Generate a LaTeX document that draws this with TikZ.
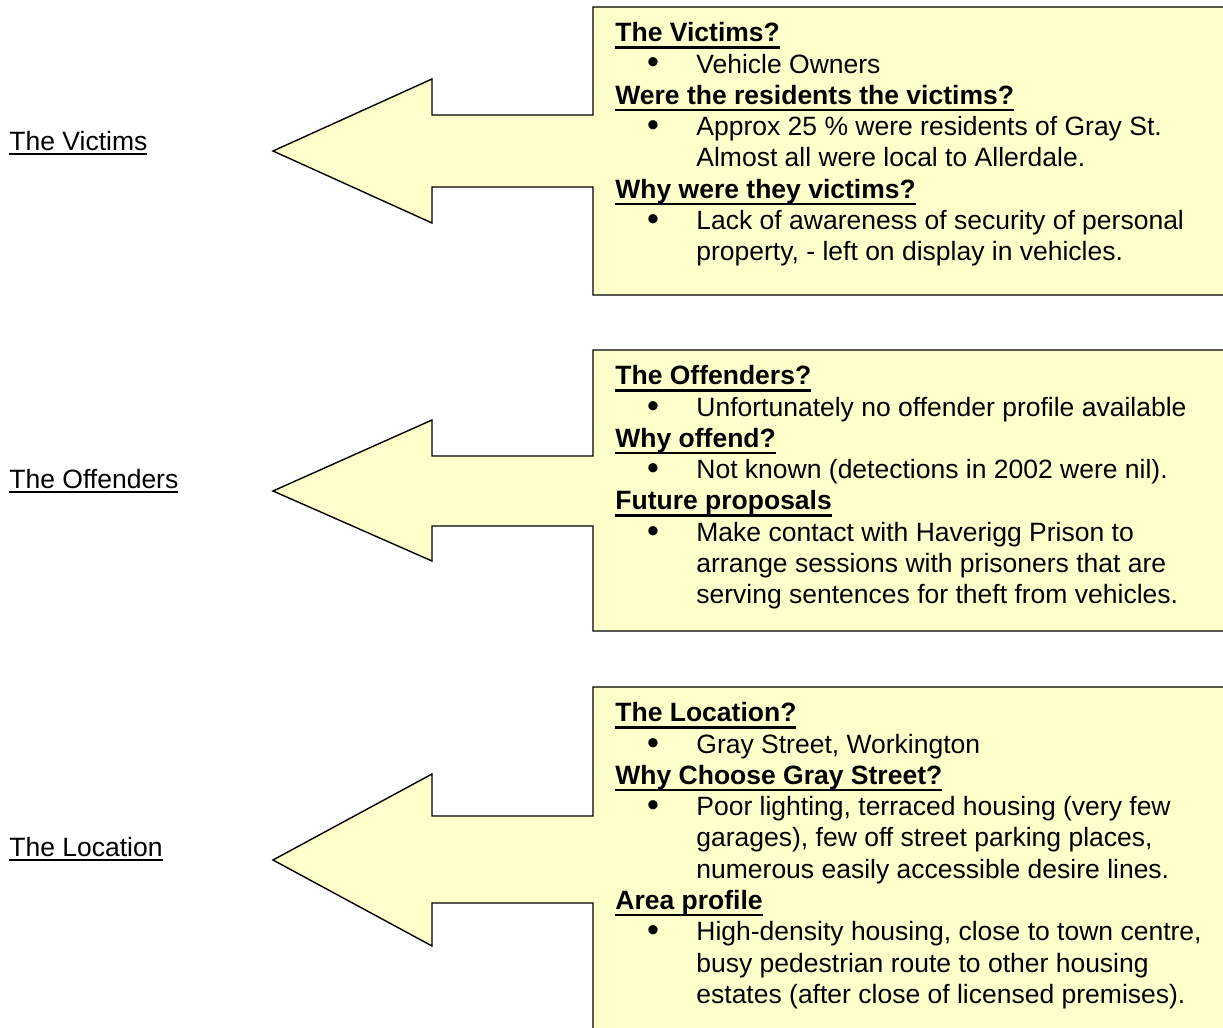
\documentclass[tikz,border=0pt]{standalone}
\usepackage{fontspec}
\setmainfont{Liberation Sans}
\usetikzlibrary{calc}

\definecolor{notefill}{HTML}{FFFFCC}
\newcommand{\headline}[1]{{\bfseries\setbox0\hbox{#1}\rlap{\rule[-3.4pt]{\wd0}{1.2pt}}\box0}}
\newcommand{\sideline}[1]{{\setbox0\hbox{#1}\rlap{\rule[-2.3pt]{\wd0}{0.9pt}}\box0}}

\begin{document}
\begin{tikzpicture}[x=0.5pt,y=-0.5pt,
  font=\fontsize{13.25pt}{15.65pt}\selectfont,
  callout/.style={draw=black,line width=0.7pt,fill=notefill,line join=miter},
  txt/.style={anchor=base west,inner sep=0pt},
  dot/.style={anchor=base,inner sep=0pt,font=\fontsize{17pt}{17pt}\selectfont}]
\useasboundingbox (0,0) rectangle (1223,1028);
\clip (0,0) rectangle (1223,1028);
\draw[callout] (593,7) -- (1232,7) -- (1232,295) -- (593,295) -- (593,187) -- (432,187) -- (432,223) -- (273,151) -- (432,79) -- (432,115) -- (593,115) -- cycle;
\draw[callout] (593,350) -- (1232,350) -- (1232,631) -- (593,631) -- (593,526) -- (432,526) -- (432,561) -- (273,491) -- (432,420) -- (432,456) -- (593,456) -- cycle;
\draw[callout] (593,687) -- (1232,687) -- (1232,1040) -- (593,1040) -- (593,903) -- (432,903) -- (432,946) -- (273,860) -- (432,774) -- (432,816) -- (593,816) -- cycle;
\draw (9,150) node[txt] (victims) {\sideline{The Victims}};
\draw (9,488) node[txt] (offenders) {\sideline{The Offenders}};
\draw (9,856) node[txt] (location) {\sideline{The Location}};
\draw (615,41.7) node[txt] (vic-h1) {\headline{The Victims?}};
\draw (653,74) node[dot] (vic-d1) {•};
\draw (696,73) node[txt] (vic-t1) {Vehicle Owners};
\draw (615,104.3) node[txt] (vic-h2) {\headline{Were the residents the victims?}};
\draw (653,136.6) node[dot] (vic-d2) {•};
\draw (696,135.6) node[txt] (vic-t2) {Approx 25 \% were residents of Gray St.};
\draw (696,166.9) node[txt] (vic-t3) {Almost all were local to Allerdale.};
\draw (615,198.2) node[txt] (vic-h3) {\headline{Why were they victims?}};
\draw (653,230.5) node[dot] (vic-d3) {•};
\draw (696,229.5) node[txt] (vic-t4) {Lack of awareness of security of personal};
\draw (696,260.8) node[txt] (vic-t5) {property, - left on display in vehicles.};
\draw (615,384.7) node[txt] (off-h1) {\headline{The Offenders?}};
\draw (653,417) node[dot] (off-d1) {•};
\draw (696,416) node[txt] (off-t1) {Unfortunately no offender profile available};
\draw (615,447.3) node[txt] (off-h2) {\headline{Why offend?}};
\draw (653,479.6) node[dot] (off-d2) {•};
\draw (696,478.6) node[txt] (off-t2) {Not known (detections in 2002 were nil).};
\draw (615,509.9) node[txt] (off-h3) {\headline{Future proposals}};
\draw (653,542.2) node[dot] (off-d3) {•};
\draw (696,541.2) node[txt] (off-t3) {Make contact with Haverigg Prison to};
\draw (696,572.5) node[txt] (off-t4) {arrange sessions with prisoners that are};
\draw (696,603.8) node[txt] (off-t5) {serving sentences for theft from vehicles.};
\draw (615,721.7) node[txt] (loc-h1) {\headline{The Location?}};
\draw (653,754) node[dot] (loc-d1) {•};
\draw (696,753) node[txt] (loc-t1) {Gray Street, Workington};
\draw (615,784.3) node[txt] (loc-h2) {\headline{Why Choose Gray Street?}};
\draw (653,816.6) node[dot] (loc-d2) {•};
\draw (696,815.6) node[txt] (loc-t2) {Poor lighting, terraced housing (very few};
\draw (696,846.9) node[txt] (loc-t3) {garages), few off street parking places,};
\draw (696,878.2) node[txt] (loc-t4) {numerous easily accessible desire lines.};
\draw (615,909.5) node[txt] (loc-h3) {\headline{Area profile}};
\draw (653,941.8) node[dot] (loc-d3) {•};
\draw (696,940.8) node[txt] (loc-t5) {High-density housing, close to town centre,};
\draw (696,972.1) node[txt] (loc-t6) {busy pedestrian route to other housing};
\draw (696,1003.4) node[txt] (loc-t7) {estates (after close of licensed premises).};
\end{tikzpicture}
\end{document}
